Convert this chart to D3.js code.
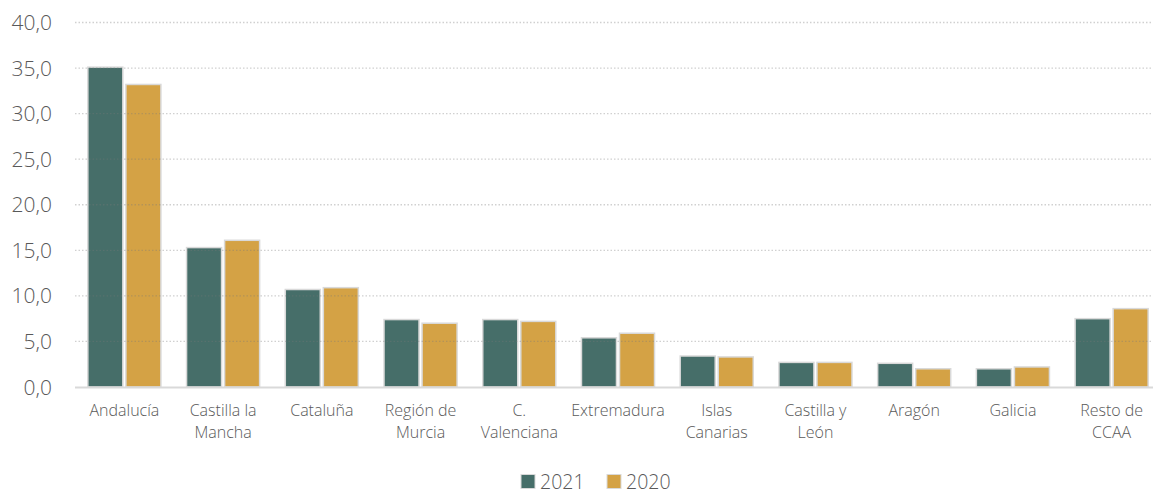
<!DOCTYPE html>
<html>
<head>
<meta charset="utf-8">
<script src="https://cdn.jsdelivr.net/npm/d3@7"></script>
<style>
  html, body { margin: 0; padding: 0; background: #ffffff; }
  svg { display: block; }
  text { font-family: "Open Sans", "Noto Sans", sans-serif; font-weight: 300; fill: #595959; }
</style>
</head>
<body>
<svg id="chart" width="1153" height="494"></svg>
<script>
// Regions (each label split into its display lines)
const categories = [
  ["Andalucía"],
  ["Castilla la", "Mancha"],
  ["Cataluña"],
  ["Región de", "Murcia"],
  ["C.", "Valenciana"],
  ["Extremadura"],
  ["Islas", "Canarias"],
  ["Castilla y", "León"],
  ["Aragón"],
  ["Galicia"],
  ["Resto de", "CCAA"]
];
const seriesNames = ["2021", "2020"];
const values2021 = [35.1, 15.3, 10.7, 7.4, 7.4, 5.4, 3.4, 2.7, 2.6, 2.0, 7.5];
const values2020 = [33.2, 16.1, 10.9, 7.0, 7.2, 5.9, 3.3, 2.7, 2.0, 2.2, 8.6];
const yTicks = [0, 5, 10, 15, 20, 25, 30, 35, 40];
const colors = ["#466e69", "#d4a245"];

const svg = d3.select("#chart");
const plotLeft = 75, plotRight = 1161, plotTop = 22.5, plotBottom = 387;

const x = d3.scaleBand()
  .domain(d3.range(categories.length))
  .range([plotLeft, plotRight])
  .paddingInner(0.26)
  .paddingOuter(0.13);
const xSeries = d3.scaleBand()
  .domain(seriesNames)
  .range([0, x.bandwidth()])
  .paddingInner(0.08);
const y = d3.scaleLinear().domain([0, 40]).range([plotBottom, plotTop]);

const fmt = v => d3.format(".1f")(v).replace(".", ",");

// Y tick labels
svg.append("g")
  .selectAll("text")
  .data(yTicks)
  .join("text")
  .attr("x", 52)
  .attr("y", d => y(d))
  .attr("dy", "0.36em")
  .attr("text-anchor", "end")
  .style("font-size", "21px")
  .text(fmt);

// Bars
const data = [values2021, values2020];
const groups = svg.append("g")
  .selectAll("g")
  .data(categories.map((c, i) => i))
  .join("g")
  .attr("transform", i => `translate(${x(i)},0)`);

groups.selectAll("rect")
  .data(i => seriesNames.map((s, k) => ({ s, k, v: data[k][i] })))
  .join("rect")
  .attr("x", d => xSeries(d.s))
  .attr("width", xSeries.bandwidth())
  .attr("y", d => y(d.v))
  .attr("height", d => y(0) - y(d.v))
  .attr("fill", d => colors[d.k])
  .attr("stroke", "#d9d9d9")
  .attr("stroke-width", 1.5);

// Dotted gridlines (drawn over the bars, semi-transparent)
svg.append("g")
  .selectAll("line")
  .data(yTicks.filter(d => d > 0))
  .join("line")
  .attr("x1", plotLeft)
  .attr("x2", 1153)
  .attr("y1", d => y(d))
  .attr("y2", d => y(d))
  .attr("stroke", "rgba(120,120,120,0.35)")
  .attr("stroke-width", 1.3)
  .attr("stroke-dasharray", "1.5,2");

// Baseline
svg.append("line")
  .attr("x1", plotLeft).attr("x2", 1153)
  .attr("y1", y(0) + 0.5).attr("y2", y(0) + 0.5)
  .attr("stroke", "#d9d9d9")
  .attr("stroke-width", 1.8);

// Category labels
const labels = svg.append("g")
  .selectAll("text")
  .data(categories)
  .join("text")
  .attr("text-anchor", "middle")
  .attr("x", (d, i) => x(i) + x.bandwidth() / 2)
  .attr("y", 416)
  .style("font-size", "16px");
labels.selectAll("tspan")
  .data(d => d)
  .join("tspan")
  .attr("x", function () { return d3.select(this.parentNode).attr("x"); })
  .attr("dy", (d, j) => j === 0 ? 0 : 22)
  .text(d => d);

// Legend
const legend = svg.append("g");
const legendX = [521, 607];
seriesNames.forEach((s, k) => {
  legend.append("rect")
    .attr("x", legendX[k]).attr("y", 474.5)
    .attr("width", 14).attr("height", 14)
    .attr("fill", colors[k])
    .attr("stroke", "#d9d9d9").attr("stroke-width", 1);
  legend.append("text")
    .attr("x", legendX[k] + 19).attr("y", 481.5)
    .attr("dy", "0.36em")
    .style("font-size", "19.5px")
    .text(s);
});
</script>
</body>
</html>
